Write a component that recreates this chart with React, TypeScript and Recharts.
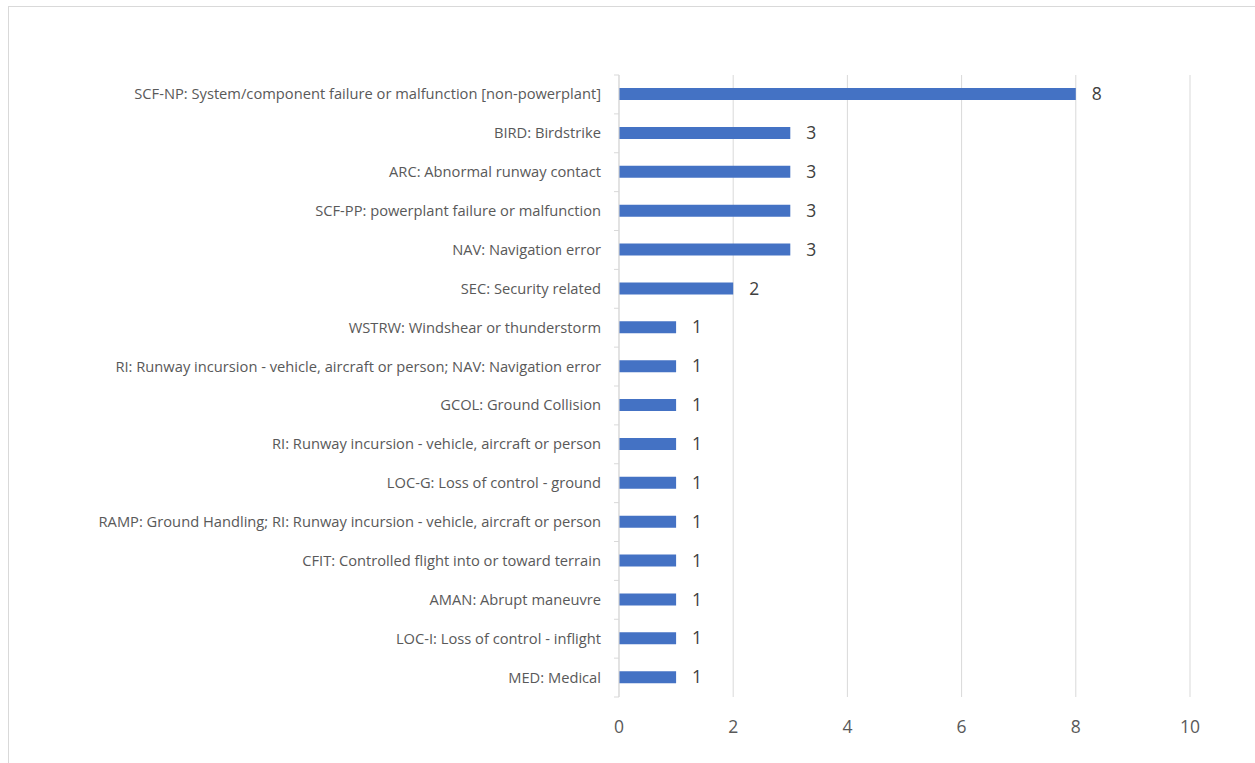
import React from "react";
import { Bar, BarChart, CartesianGrid, LabelList, XAxis, YAxis } from "recharts";

const categories = [
  "SCF-NP: System/component failure or malfunction [non-powerplant]",
  "BIRD: Birdstrike",
  "ARC: Abnormal runway contact",
  "SCF-PP: powerplant failure or malfunction",
  "NAV: Navigation error",
  "SEC: Security related",
  "WSTRW: Windshear or thunderstorm",
  "RI: Runway incursion - vehicle, aircraft or person; NAV: Navigation error",
  "GCOL: Ground Collision",
  "RI: Runway incursion - vehicle, aircraft or person",
  "LOC-G: Loss of control - ground",
  "RAMP: Ground Handling; RI: Runway incursion - vehicle, aircraft or person",
  "CFIT: Controlled flight into or toward terrain",
  "AMAN: Abrupt maneuvre",
  "LOC-I: Loss of control - inflight",
  "MED: Medical",
];
const counts = [8, 3, 3, 3, 3, 2, 1, 1, 1, 1, 1, 1, 1, 1, 1, 1];
const xTicks = [0, 2, 4, 6, 8, 10];

const data = categories.map((name, i) => ({ name, value: counts[i] }));

const W = 1255;
const H = 763;
const X_AXIS_H = 30;
const M = { top: 75, right: 65, bottom: 66 - X_AXIS_H, left: 0 };
const AXIS_W = 619;
const band = (H - M.top - M.bottom - X_AXIS_H) / categories.length;
const FONT = "'Open Sans', sans-serif";

const CatTick = (props: any) => {
  const { y, payload, index } = props;
  const ax = AXIS_W;
  const top = y - band / 2;
  return (
    <g>
      <line x1={ax - 5} x2={ax} y1={top} y2={top} stroke="#d9d9d9" />
      {index === categories.length - 1 && (
        <line x1={ax - 5} x2={ax} y1={top + band} y2={top + band} stroke="#d9d9d9" />
      )}
      <text
        x={ax - 18}
        y={y}
        dy={5}
        textAnchor="end"
        fill="#595959"
        fontSize={14.7}
        fontFamily={FONT}
      >
        {payload.value}
      </text>
    </g>
  );
};

export default function App() {
  return (
    <div style={{ position: "absolute", left: 0, top: 0, width: W, height: H, background: "#fff", overflow: "hidden" }}>
      <div
        style={{
          position: "absolute",
          left: 8,
          top: 6,
          width: W,
          height: H,
          borderTop: "1px solid #d9d9d9",
          borderLeft: "1px solid #d9d9d9",
        }}
      />
      <BarChart
        width={W}
        height={H}
        layout="vertical"
        data={data}
        margin={M}
        style={{ position: "absolute", left: 0, top: 0 }}
      >
        <CartesianGrid horizontal={false} stroke="#d9d9d9" strokeDasharray="" />
        <XAxis
          type="number"
          domain={[0, 10]}
          ticks={xTicks}
          height={X_AXIS_H}
          axisLine={false}
          tickLine={false}
          tickMargin={18}
          tick={{ fill: "#595959", fontSize: 17.5, fontFamily: FONT }}
        />
        <YAxis
          type="category"
          dataKey="name"
          width={AXIS_W}
          axisLine={{ stroke: "#d9d9d9" }}
          tickLine={false}
          tick={<CatTick />}
          interval={0}
        />
        <Bar dataKey="value" fill="#4472C4" barSize={12} isAnimationActive={false}>
          <LabelList
            dataKey="value"
            position="right"
            offset={16}
            fill="#404040"
            fontSize={17.5}
            fontFamily={FONT}
          />
        </Bar>
      </BarChart>
    </div>
  );
}
